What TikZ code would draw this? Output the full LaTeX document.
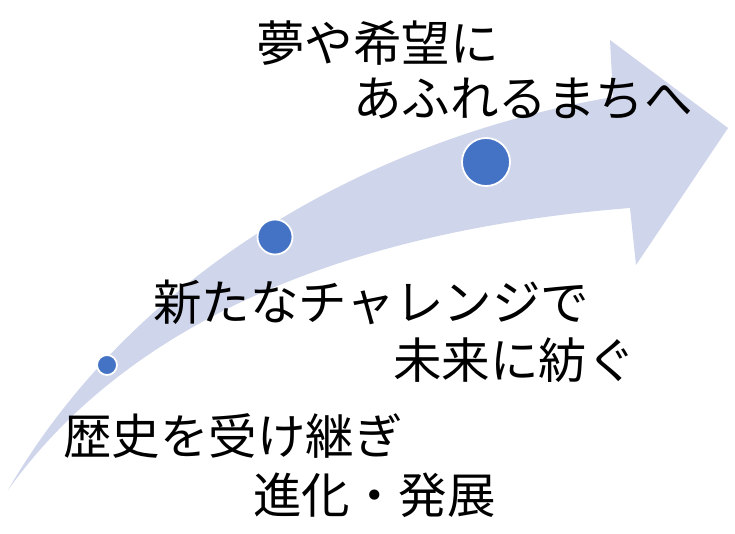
\documentclass[tikz,border=0pt]{standalone}
\usepackage{fontspec}
\setmainfont{Noto Sans CJK JP}
\definecolor{arrowfill}{HTML}{CFD5EA}
\definecolor{dotblue}{HTML}{4472C4}
\begin{document}
\begin{tikzpicture}[x=1pt,y=-1pt,
  dot/.style={circle,fill=dotblue,draw=white,line width=1.8pt,inner sep=0pt,minimum size=#1},
  lbl/.style={anchor=base west,inner sep=0pt,font=\fontsize{48.5}{58}\selectfont}]
\useasboundingbox (0,0) rectangle (735,534);
% curved arrow
\fill[arrowfill] (8,490) .. controls (130,280) and (360,140) .. (613,97)
  -- (610,40) -- (728,128) -- (636,265) -- (630,208)
  .. controls (350,230) and (130,320) .. (8,490) -- cycle;
% dots
\node[dot=20pt] (c1) at (107,365) {};
\node[dot=35pt] (c2) at (275,237) {};
\node[dot=48pt] (c3) at (486,162) {};
% labels
\node[lbl] (t1) at (256,62) {夢や希望に};
\node[lbl] (t2) at (353,117) {あふれるまちへ};
\node[lbl] (t3) at (153,320) {新たなチャレンジで};
\node[lbl] (t4) at (393,378) {未来に紡ぐ};
\node[lbl] (t5) at (63,454) {歴史を受け継ぎ};
\node[lbl] (t6) at (253,513) {進化・発展};
\end{tikzpicture}
\end{document}
